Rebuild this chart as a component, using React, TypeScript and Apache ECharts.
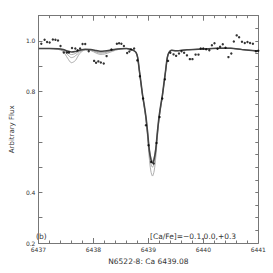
import React, { useEffect, useRef } from "react";
import * as echarts from "echarts";

// Model wavelength grid (Å)
const modelWave = [
  6437.0, 6437.2, 6437.35, 6437.45, 6437.53, 6437.6, 6437.67, 6437.75, 6437.85,
  6437.95, 6438.05, 6438.12, 6438.2, 6438.3, 6438.4, 6438.5, 6438.6,
  6438.675, 6438.725, 6438.775, 6438.805, 6438.835, 6438.865, 6438.895, 6438.925,
  6438.955, 6438.985, 6439.015, 6439.045, 6439.075, 6439.105, 6439.135, 6439.165,
  6439.195, 6439.225, 6439.255, 6439.285, 6439.315, 6439.345, 6439.375, 6439.425,
  6439.5, 6439.7, 6440.0, 6440.3, 6440.5, 6440.7, 6441.0,
];

// thick dark model
const fluxThick = [
  0.970, 0.970, 0.969, 0.966, 0.960, 0.956, 0.958, 0.963, 0.967,
  0.966, 0.962, 0.959, 0.960, 0.963, 0.967, 0.969, 0.970,
  0.967, 0.963, 0.955, 0.935, 0.885, 0.835, 0.785, 0.745,
  0.700, 0.640, 0.572, 0.532, 0.518, 0.532, 0.572, 0.640,
  0.700, 0.745, 0.785, 0.835, 0.885, 0.935, 0.955, 0.963,
  0.961, 0.965, 0.968, 0.971, 0.971, 0.966, 0.960,
];

// [Ca/Fe] = -0.1
const fluxMinus01 = [
  0.970, 0.970, 0.969, 0.964, 0.954, 0.946, 0.950, 0.960, 0.966,
  0.965, 0.959, 0.955, 0.956, 0.961, 0.966, 0.969, 0.970,
  0.967, 0.963, 0.955, 0.935, 0.885, 0.835, 0.785, 0.745,
  0.700, 0.640, 0.575, 0.540, 0.525, 0.540, 0.575, 0.640,
  0.700, 0.745, 0.785, 0.835, 0.885, 0.935, 0.955, 0.963,
  0.961, 0.965, 0.968, 0.971, 0.971, 0.966, 0.960,
];

// [Ca/Fe] = 0.0
const flux00 = [
  0.970, 0.970, 0.968, 0.962, 0.946, 0.934, 0.940, 0.957, 0.965,
  0.964, 0.956, 0.952, 0.953, 0.959, 0.965, 0.969, 0.970,
  0.967, 0.963, 0.955, 0.934, 0.884, 0.834, 0.783, 0.742,
  0.695, 0.635, 0.560, 0.515, 0.500, 0.515, 0.560, 0.635,
  0.695, 0.742, 0.783, 0.834, 0.884, 0.934, 0.955, 0.963,
  0.961, 0.965, 0.968, 0.971, 0.971, 0.966, 0.960,
];

// [Ca/Fe] = +0.3
const fluxPlus03 = [
  0.970, 0.970, 0.967, 0.958, 0.932, 0.914, 0.922, 0.950, 0.964,
  0.962, 0.952, 0.947, 0.948, 0.955, 0.963, 0.968, 0.970,
  0.967, 0.962, 0.953, 0.932, 0.880, 0.830, 0.778, 0.736,
  0.690, 0.620, 0.540, 0.485, 0.465, 0.485, 0.540, 0.620,
  0.690, 0.736, 0.778, 0.830, 0.880, 0.932, 0.953, 0.962,
  0.961, 0.965, 0.968, 0.971, 0.971, 0.966, 0.960,
];

// observed spectrum points
const obsWave = [
  6437.052, 6437.112, 6437.157, 6437.204, 6437.262, 6437.309, 6437.356, 6437.402,
  6437.461, 6437.519, 6437.554, 6437.611, 6437.671, 6437.711, 6437.758, 6437.803,
  6437.851, 6437.915, 6438.013, 6438.048, 6438.09, 6438.135, 6438.188, 6438.24,
  6438.328, 6438.427, 6438.467, 6438.509, 6438.555, 6438.614, 6438.654, 6438.684,
  6438.741, 6438.799, 6438.846, 6438.904, 6438.955, 6439.003, 6439.051, 6439.096,
  6439.148, 6439.204, 6439.253, 6439.3, 6439.358, 6439.4, 6439.458, 6439.505,
  6439.557, 6439.603, 6439.65, 6439.702, 6439.755, 6439.802, 6439.859, 6439.912,
  6439.952, 6439.999, 6440.052, 6440.109, 6440.156, 6440.203, 6440.258, 6440.305,
  6440.354, 6440.404, 6440.457, 6440.509, 6440.555, 6440.607, 6440.651, 6440.703,
  6440.754, 6440.803, 6440.85, 6440.902, 6440.956, 6441.0,
];
const obsFlux = [
  0.989, 1.005, 0.996, 0.994, 1.006, 1.005, 1.002, 0.980,
  0.954, 0.954, 0.954, 0.972, 0.970, 0.963, 0.970, 0.988,
  0.988, 0.959, 0.921, 0.914, 0.919, 0.915, 0.911, 0.940,
  0.966, 0.989, 0.991, 0.989, 0.980, 0.952, 0.958, 0.966,
  0.970, 0.923, 0.860, 0.772, 0.666, 0.587, 0.521, 0.515,
  0.596, 0.699, 0.772, 0.848, 0.921, 0.953, 0.947, 0.941,
  0.950, 0.959, 0.953, 0.943, 0.928, 0.928, 0.946, 0.946,
  0.970, 0.970, 0.967, 0.963, 0.983, 0.991, 0.969, 0.977,
  0.987, 0.973, 0.936, 0.950, 0.998, 1.022, 1.015, 0.997,
  0.992, 0.996, 0.992, 0.989, 0.959, 0.961,
];

const yLabels = ["0.2", "0.4", "0.8", "1.0"];
const titleText = "N6522-8: Ca 6439.08";
const yName = "Arbitrary Flux";
const panelTag = "(b)";
const abundText = "[Ca/Fe]=\u22120.1,0.0,+0.3";

const FONT = "DejaVu Sans";
const AX = "#777";
const TXT = "#333";

export default function App() {
  const ref = useRef<HTMLDivElement>(null);
  useEffect(() => {
    if (!ref.current) return;
    const chart = echarts.init(ref.current, null, { renderer: "svg" });
    const pairs = (ys: number[]) => modelWave.map((w, i) => [w, ys[i]]);
    const grid = { left: 29.3, right: 14.7, top: 15.7, bottom: 30 };
    const xCommon = {
      type: "value" as const,
      min: 6437,
      max: 6441,
      interval: 1,
      axisLine: { show: true, lineStyle: { color: AX, width: 1 } },
      axisTick: { show: true, inside: true, length: 5, lineStyle: { color: AX } },
      minorTick: { show: true, splitNumber: 5, length: 2.5, lineStyle: { color: AX } },
      splitLine: { show: false },
    };
    chart.setOption({
      animation: false,
      grid,
      xAxis: [
        {
          ...xCommon,
          position: "bottom",
          axisLabel: {
            show: true,
            fontFamily: FONT,
            fontSize: 6,
            color: TXT,
            margin: 3,
            formatter: (v: number) => String(Math.round(v)),
          },
          name: titleText,
          nameLocation: "middle",
          nameGap: 14,
          nameTextStyle: { fontFamily: FONT, fontSize: 7.5, color: TXT },
        },
        { ...xCommon, position: "top", axisLabel: { show: false } },
      ],
      yAxis: [
        {
          type: "value",
          min: 0.2,
          max: 1.1,
          interval: 0.2,
          position: "left",
          axisLine: { show: true, lineStyle: { color: AX } },
          axisTick: { show: true, inside: true, length: 4, lineStyle: { color: AX } },
          minorTick: { show: true, splitNumber: 2, length: 4, lineStyle: { color: AX } },
          splitLine: { show: false },
          axisLabel: {
            fontFamily: FONT,
            fontSize: 6,
            color: TXT,
            margin: 3,
            formatter: (v: number) => {
              const s = v.toFixed(1);
              return yLabels.includes(s) ? s : "";
            },
          },
          name: yName,
          nameLocation: "middle",
          nameGap: 16,
          nameRotate: 90,
          nameTextStyle: { fontFamily: FONT, fontSize: 7, color: TXT },
        },
        {
          type: "value",
          min: 0.2,
          max: 1.1,
          interval: 0.05,
          position: "right",
          axisLine: { show: true, lineStyle: { color: AX } },
          axisTick: { show: true, inside: true, length: 3, lineStyle: { color: AX } },
          axisLabel: { show: false },
          splitLine: { show: false },
        },
      ],
      series: [
        {
          type: "line",
          data: pairs(fluxPlus03),
          showSymbol: false,
          smooth: 0.3,
          lineStyle: { color: "#999", width: 0.8 },
          z: 2,
        },
        {
          type: "line",
          data: pairs(flux00),
          showSymbol: false,
          smooth: 0.3,
          lineStyle: { color: "#999", width: 0.8 },
          z: 2,
        },
        {
          type: "line",
          data: pairs(fluxMinus01),
          showSymbol: false,
          smooth: 0.3,
          lineStyle: { color: "#999", width: 0.8 },
          z: 2,
        },
        {
          type: "line",
          data: pairs(fluxThick),
          showSymbol: false,
          smooth: 0.3,
          lineStyle: { color: "#444", width: 1.6 },
          z: 3,
        },
        {
          type: "scatter",
          data: obsWave.map((w, i) => [w, obsFlux[i]]),
          symbol: "circle",
          symbolSize: 2.4,
          itemStyle: { color: "#000" },
          z: 4,
        },
      ],
      graphic: [
        {
          type: "text",
          left: 36,
          top: 232,
          style: { text: panelTag, fontFamily: FONT, fontSize: 7.5, fill: TXT },
        },
        {
          type: "text",
          left: 150,
          top: 232,
          style: { text: abundText, fontFamily: FONT, fontSize: 7.5, fill: TXT },
        },
      ],
    });
    return () => chart.dispose();
  }, []);
  return (
    <div
      ref={ref}
      style={{ position: "fixed", left: 0, top: 0, width: 273, height: 273, background: "#fff" }}
    />
  );
}
